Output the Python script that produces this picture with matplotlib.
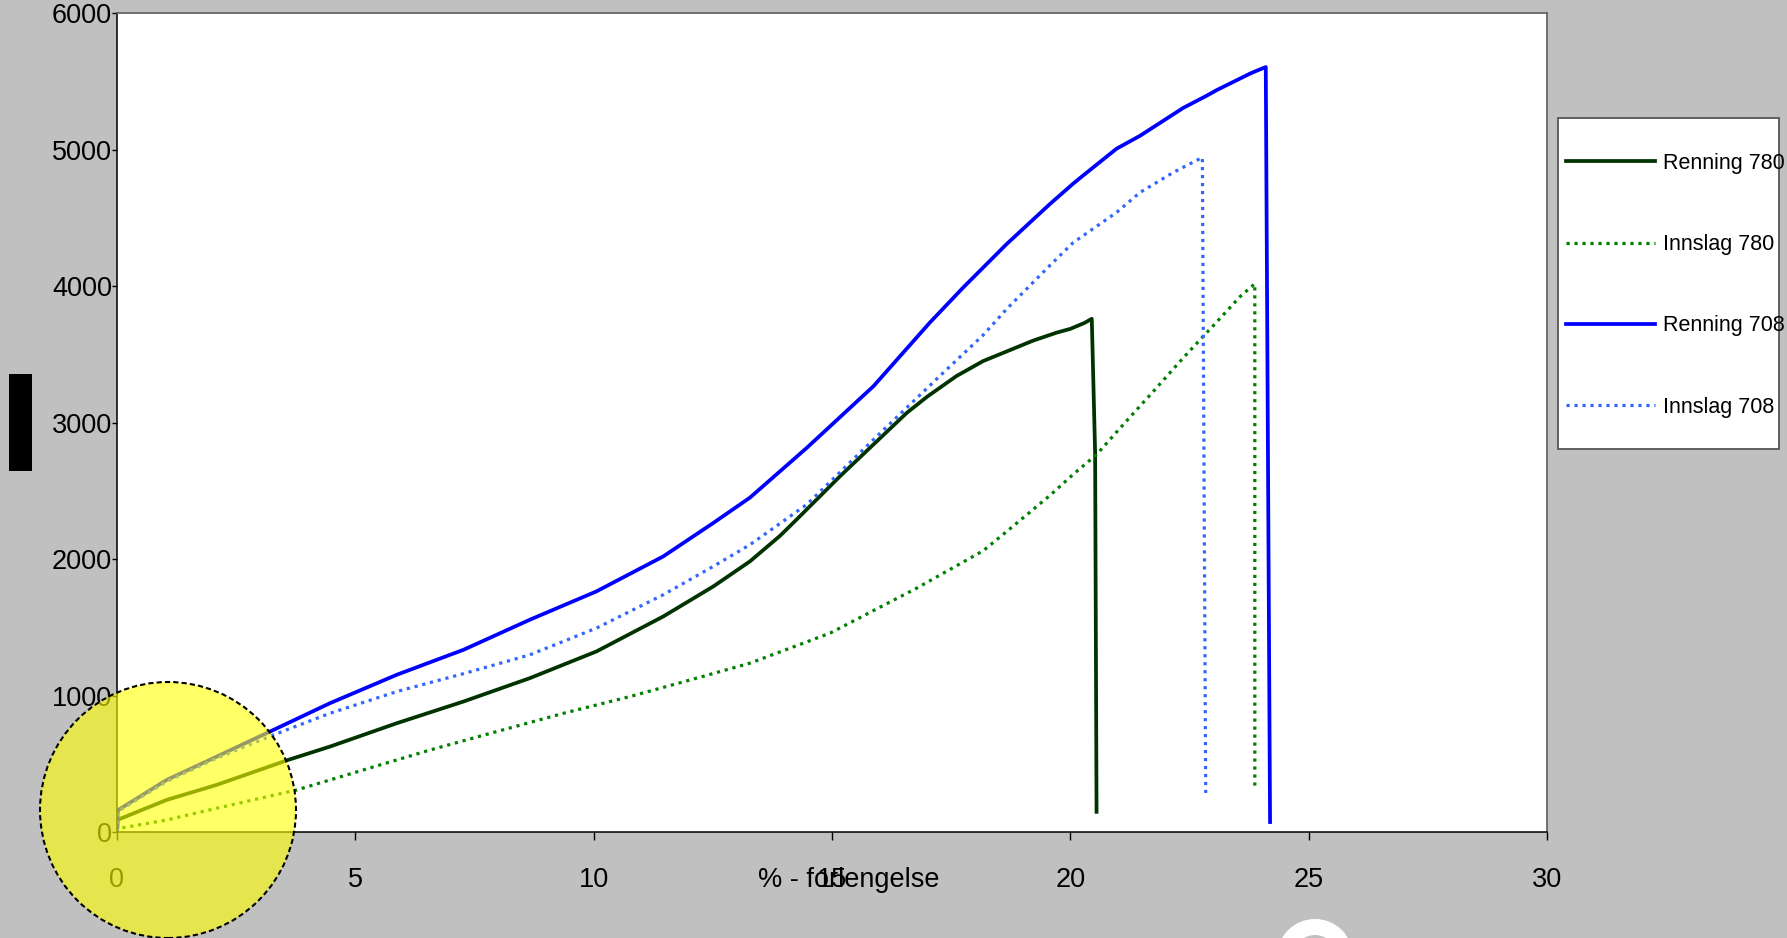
import matplotlib
matplotlib.use("Agg")
import matplotlib.pyplot as plt
from matplotlib.patches import Ellipse, Rectangle

plt.rcParams['font.family'] = ['Liberation Sans', 'DejaVu Sans']

# data: % elongation vs force (N)
renning780_x = [0, 0.02, 1.04, 2.09, 3.59, 4.47, 5.87, 7.27, 8.66, 10.06, 11.46, 12.51, 13.28,
                13.91, 14.26, 15.17, 16.57, 17.0, 17.61, 18.17, 18.66, 19.22, 19.71, 20.0,
                20.3, 20.45, 20.52, 20.55]
renning780_y = [0, 90, 235, 345, 528, 626, 797, 956, 1127, 1323, 1579, 1799, 1983,
                2170, 2290, 2607, 3071, 3190, 3340, 3450, 3520, 3600, 3658, 3686,
                3730, 3760, 2778, 148]

innslag780_x = [0, 0.02, 1.04, 2.09, 3.77, 5.17, 6.57, 7.97, 9.37, 10.76, 12.16, 13.28, 14.96,
                16.78, 18.17, 18.66, 19.57, 20.06, 20.55, 20.97, 21.46, 21.67, 22.37, 22.86,
                23.07, 23.56, 23.87, 23.87]
innslag780_y = [0, 25, 88, 174, 308, 455, 601, 736, 870, 992, 1127, 1237, 1457,
                1787, 2060, 2200, 2465, 2620, 2765, 2930, 3120, 3200, 3474, 3658,
                3736, 3922, 4016, 335]

renning708_x = [0, 0.02, 1.04, 2.09, 3.21, 4.47, 5.87, 7.27, 8.66, 10.06, 11.46, 12.51, 13.28,
                14.47, 15.87, 17.05, 17.75, 18.66, 19.57, 20.06, 20.27, 20.97, 21.46, 22.37,
                22.86, 23.07, 23.77, 23.91, 24.10, 24.19]
renning708_y = [0, 160, 381, 552, 736, 944, 1152, 1335, 1555, 1763, 2019, 2264, 2450,
                2814, 3266, 3731, 3988, 4306, 4600, 4750, 4810, 5006, 5100, 5305,
                5394, 5435, 5556, 5577, 5604, 73]

innslag708_x = [0, 0.02, 1.04, 2.09, 3.28, 4.47, 5.87, 7.27, 8.66, 10.06, 11.46, 12.51, 13.28,
                14.47, 15.87, 17.26, 18.17, 18.66, 19.57, 20.06, 20.97, 21.46, 22.16, 22.77,
                22.84]
innslag708_y = [0, 150, 370, 540, 711, 870, 1029, 1160, 1298, 1494, 1738, 1946, 2105,
                2399, 2875, 3340, 3640, 3830, 4150, 4318, 4539, 4685, 4832, 4942,
                286]

labels = ['Renning 780', 'Innslag 780', 'Renning 708', 'Innslag 708']
x_ticks = [0, 5, 10, 15, 20, 25, 30]
y_ticks = [0, 1000, 2000, 3000, 4000, 5000, 6000]

fig = plt.figure(figsize=(17.87, 9.38), dpi=100, facecolor='#c0c0c0')
ax = fig.add_axes([117 / 1787, 106 / 938, 1430 / 1787, 819 / 938])
ax.set_facecolor('white')

dots = (0, (1, 1.5))
ax.plot(renning780_x, renning780_y, color='#003300', lw=2.7, label=labels[0])
ax.plot(innslag780_x, innslag780_y, color='#008000', lw=2.3, ls=dots, label=labels[1])
ax.plot(renning708_x, renning708_y, color='#0000ff', lw=2.7, label=labels[2])
ax.plot(innslag708_x, innslag708_y, color='#3366ff', lw=2.3, ls=dots, label=labels[3])

ax.set_xlim(0, 30)
ax.set_ylim(0, 6000)
ax.set_xticks(x_ticks)
ax.set_yticks(y_ticks)
ax.tick_params(axis='x', direction='out', length=5.8, width=1, pad=19.5, labelsize=19.5)
ax.tick_params(axis='y', direction='out', length=3.6, width=1, pad=0, labelsize=19.5)
for s in ['left', 'bottom']:
    ax.spines[s].set_color('black')
    ax.spines[s].set_linewidth(1.1)
for s in ['top', 'right']:
    ax.spines[s].set_color('#666666')
    ax.spines[s].set_linewidth(1.3)

ax.set_xlabel('% - forlengelse', fontsize=19.5)
ax.xaxis.set_label_coords(0.512, -0.0425)

# legend box
fig.patches.append(Rectangle((1558 / 1787, 489 / 938), 221 / 1787, 331 / 938,
                             transform=fig.transFigure, facecolor='white',
                             edgecolor='#555555', lw=1.3, zorder=1))
h, l = ax.get_legend_handles_labels()
fig.legend(h, l, loc='upper left', bbox_to_anchor=(1566 / 1787, 0.837),
           frameon=False, fontsize=15.5, handlelength=4.13, handletextpad=0.37,
           labelspacing=2.8, borderpad=0, borderaxespad=0)

# black marker on the left
fig.patches.append(Rectangle((9 / 1787, 467 / 938), 23 / 1787, 97 / 938,
                             transform=fig.transFigure, facecolor='black',
                             edgecolor='none', zorder=2))

# yellow highlight circle
fig.patches.append(Ellipse((168 / 1787, 128 / 938), 256 / 1787, 256 / 938,
                           transform=fig.transFigure, facecolor=(1, 1, 0, 0.6),
                           edgecolor='black', lw=1.5, ls=(0, (2.5, 1.5)), zorder=10))

# white ring at the bottom
fig.patches.append(Ellipse((1315 / 1787, -19 / 938), 60 / 1787, 60 / 938,
                           transform=fig.transFigure, facecolor='none',
                           edgecolor='white', lw=11.5, zorder=10))

fig.savefig('out.png', dpi=100, facecolor=fig.get_facecolor())
